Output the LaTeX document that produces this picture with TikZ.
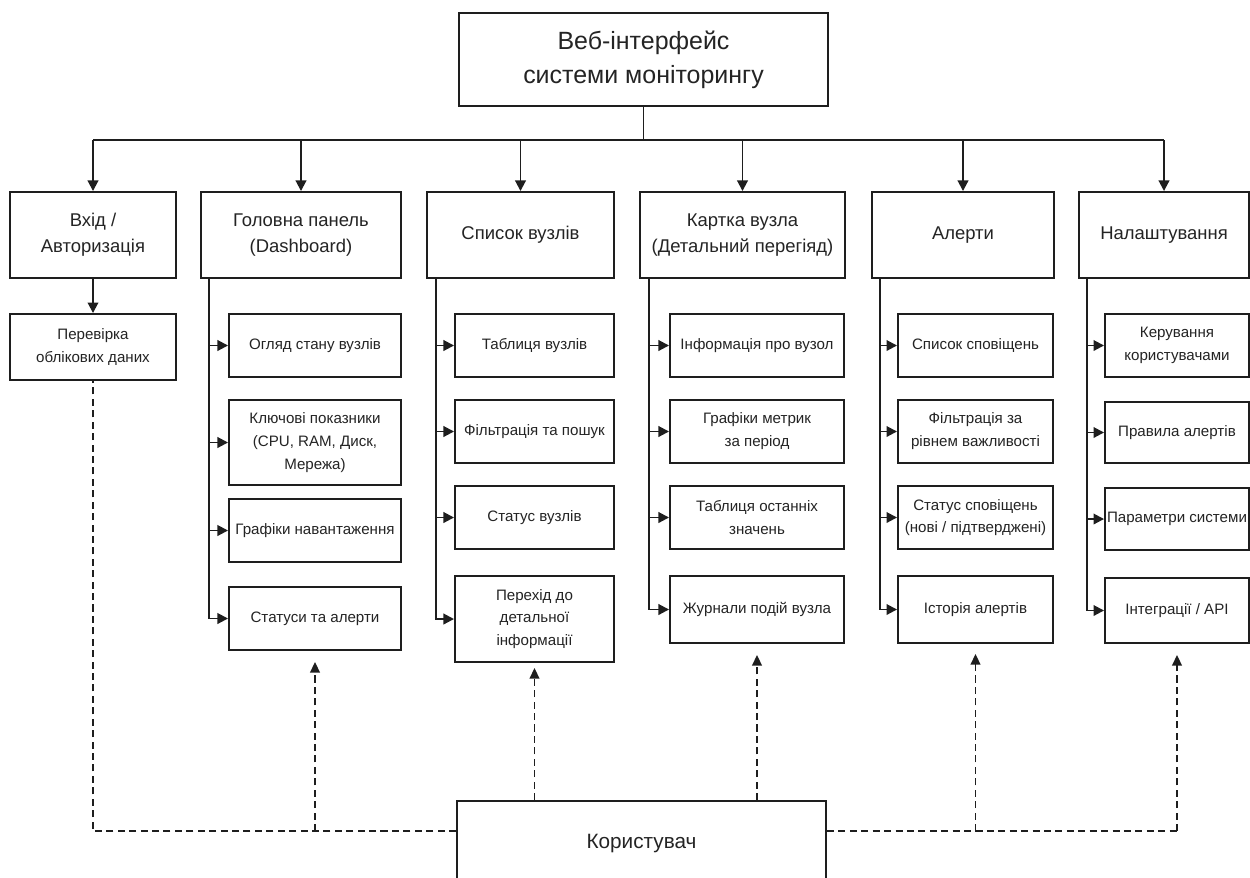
\documentclass[tikz,border=0pt]{standalone}
\usepackage{fontspec}
\setmainfont{Liberation Sans}
\usetikzlibrary{arrows.meta, positioning, calc}
\definecolor{c1}{HTML}{1E1E1E}
\definecolor{c2}{HTML}{242424}

\begin{document}
\begin{tikzpicture}[
    every node/.style={text=c2},
    box/.style={
        rectangle, draw=c1, line width=1.1pt, fill=white,
        align=center, inner sep=2pt,
    },
    root/.style={box, font=\fontsize{14.2}{19.5}\selectfont,
        minimum width=7.38cm, minimum height=1.86cm},
    sec/.style={box, font=\fontsize{10.5}{14.8}\selectfont, minimum height=1.72cm},
    item/.style={box, inner sep=1pt, font=\fontsize{8.6}{13}\selectfont, minimum height=1.26cm},
    wire/.style={line width=1.1pt, draw=c1},
    arr/.style={-{Triangle[length=6pt, width=6pt]}, line width=1.1pt, draw=c1},
    dline/.style={line width=0.9pt, draw=c1, dash pattern=on 4pt off 2.5pt},
    darr/.style={dline, -{Triangle[length=6pt, width=5.5pt]}},
]
\useasboundingbox (0,0) rectangle (25,-17.54);

% ================================================ root
\node[root] (web) at (12.87,-1.19) {Веб-інтерфейс\\системи моніторингу};

% ================================================ sections
\node[sec, minimum width=3.32cm] (login)    at (1.86,-4.70)  {Вхід /\\Авторизація};
\node[sec, minimum width=4.00cm] (panel)    at (6.02,-4.70)  {Головна панель\\(Dashboard)};
\node[sec, minimum width=3.74cm] (nodes)    at (10.41,-4.70) {Список вузлів};
\node[sec, minimum width=4.10cm] (card)     at (14.85,-4.70) {Картка вузла\\(Детальний перегіяд)};
\node[sec, minimum width=3.64cm] (alerts)   at (19.26,-4.70) {Алерти};
\node[sec, minimum width=3.40cm] (settings) at (23.28,-4.70) {Налаштування};

\coordinate (split) at (12.87,-2.80);
\draw[wire] (web.south) -- (web.south |- split);
\draw[wire] (login.north |- split) -- (settings.north |- split);
\foreach \s in {login,panel,nodes,card,alerts,settings}{
    \draw[arr] (\s.north |- split) -- (\s.north);
}

% ================================================ login
\node[item, minimum width=3.32cm, minimum height=1.32cm] (check) at (1.86,-6.94)
    {Перевірка\\облікових даних};
\draw[arr] (login) -- (check);

% ================================================ dashboard
\node[item, minimum width=3.44cm] (p1) at (6.30,-6.91) {Огляд стану вузлів};
\node[item, minimum width=3.44cm, minimum height=1.70cm] (p2) at (6.30,-8.85)
    {Ключові показники\\(CPU, RAM, Диск,\\Мережа)};
\node[item, minimum width=3.44cm] (p3) at (6.30,-10.61) {Графіки навантаження};
\node[item, minimum width=3.44cm] (p4) at (6.30,-12.37) {Статуси та алерти};

% ================================================ node list
\node[item, minimum width=3.18cm] (n1) at (10.69,-6.91)  {Таблиця вузлів};
\node[item, minimum width=3.18cm] (n2) at (10.69,-8.63)  {Фільтрація та пошук};
\node[item, minimum width=3.18cm] (n3) at (10.69,-10.35) {Статус вузлів};
\node[item, minimum width=3.18cm, minimum height=1.72cm] (n4) at (10.69,-12.38)
    {Перехід до\\детальної\\інформації};

% ================================================ node card
\node[item, minimum width=3.48cm] (k1) at (15.14,-6.91)  {Інформація про вузол};
\node[item, minimum width=3.48cm] (k2) at (15.14,-8.63)  {Графіки метрик\\за період};
\node[item, minimum width=3.48cm] (k3) at (15.14,-10.35) {Таблиця останніх\\значень};
\node[item, minimum width=3.48cm, minimum height=1.34cm] (k4) at (15.14,-12.19)
    {Журнали подій вузла};

% ================================================ alerts
\node[item, minimum width=3.10cm] (a1) at (19.51,-6.91)  {Список сповіщень};
\node[item, minimum width=3.10cm] (a2) at (19.51,-8.63)  {Фільтрація за\\рівнем важливості};
\node[item, minimum width=3.10cm] (a3) at (19.51,-10.35) {Статус сповіщень\\(нові / підтверджені)};
\node[item, minimum width=3.10cm, minimum height=1.34cm] (a4) at (19.51,-12.19)
    {Історія алертів};

% ================================================ settings
\node[item, minimum width=2.88cm] (s1) at (23.54,-6.91)  {Керування\\користувачами};
\node[item, minimum width=2.88cm, minimum height=1.22cm] (s2) at (23.54,-8.65) {Правила алертів};
\node[item, minimum width=2.88cm, minimum height=1.24cm] (s3) at (23.54,-10.38) {Параметри системи};
\node[item, minimum width=2.88cm, minimum height=1.30cm] (s4) at (23.54,-12.21)
    {Інтеграції / API};

% buses
\coordinate (b2) at (4.18,-4.70);
\coordinate (b3) at (8.72,-4.70);
\coordinate (b4) at (12.98,-4.70);
\coordinate (b5) at (17.60,-4.70);
\coordinate (b6) at (21.74,-4.70);

\draw[arr] (b2 |- panel.south) |- (p4.west);
\draw[arr] (b3 |- nodes.south) |- (n4.west);
\draw[arr] (b4 |- card.south) |- (k4.west);
\draw[arr] (b5 |- alerts.south) |- (a4.west);
\draw[arr] (b6 |- settings.south) |- (s4.west);
\foreach \c in {p1,p2,p3}{ \draw[arr] (b2 |- \c.west) -- (\c.west); }
\foreach \c in {n1,n2,n3}{ \draw[arr] (b3 |- \c.west) -- (\c.west); }
\foreach \c in {k1,k2,k3}{ \draw[arr] (b4 |- \c.west) -- (\c.west); }
\foreach \c in {a1,a2,a3}{ \draw[arr] (b5 |- \c.west) -- (\c.west); }
\foreach \c in {s1,s2,s3}{ \draw[arr] (b6 |- \c.west) -- (\c.west); }

% ================================================ the user
\node[box, font=\fontsize{11.8}{14}\selectfont, minimum width=7.38cm, minimum height=1.68cm]
    (user) at (12.83,-16.86) {Користувач};
\coordinate (ul) at (12.83,-16.62);

\draw[dline] (user.west |- ul) -| (check.south);
\draw[dline] (user.east |- ul) -- (s4.south |- ul);
\draw[darr] (p4.south |- ul) -- ([yshift=-0.22cm]p4.south);
\draw[darr] (n4.south |- user.north) -- ([yshift=-0.10cm]n4.south);
\draw[darr] (k4.south |- user.north) -- ([yshift=-0.22cm]k4.south);
\draw[darr] (a4.south |- ul) -- ([yshift=-0.20cm]a4.south);
\draw[darr] (s4.south |- ul) -- ([yshift=-0.22cm]s4.south);

\end{tikzpicture}
\end{document}
